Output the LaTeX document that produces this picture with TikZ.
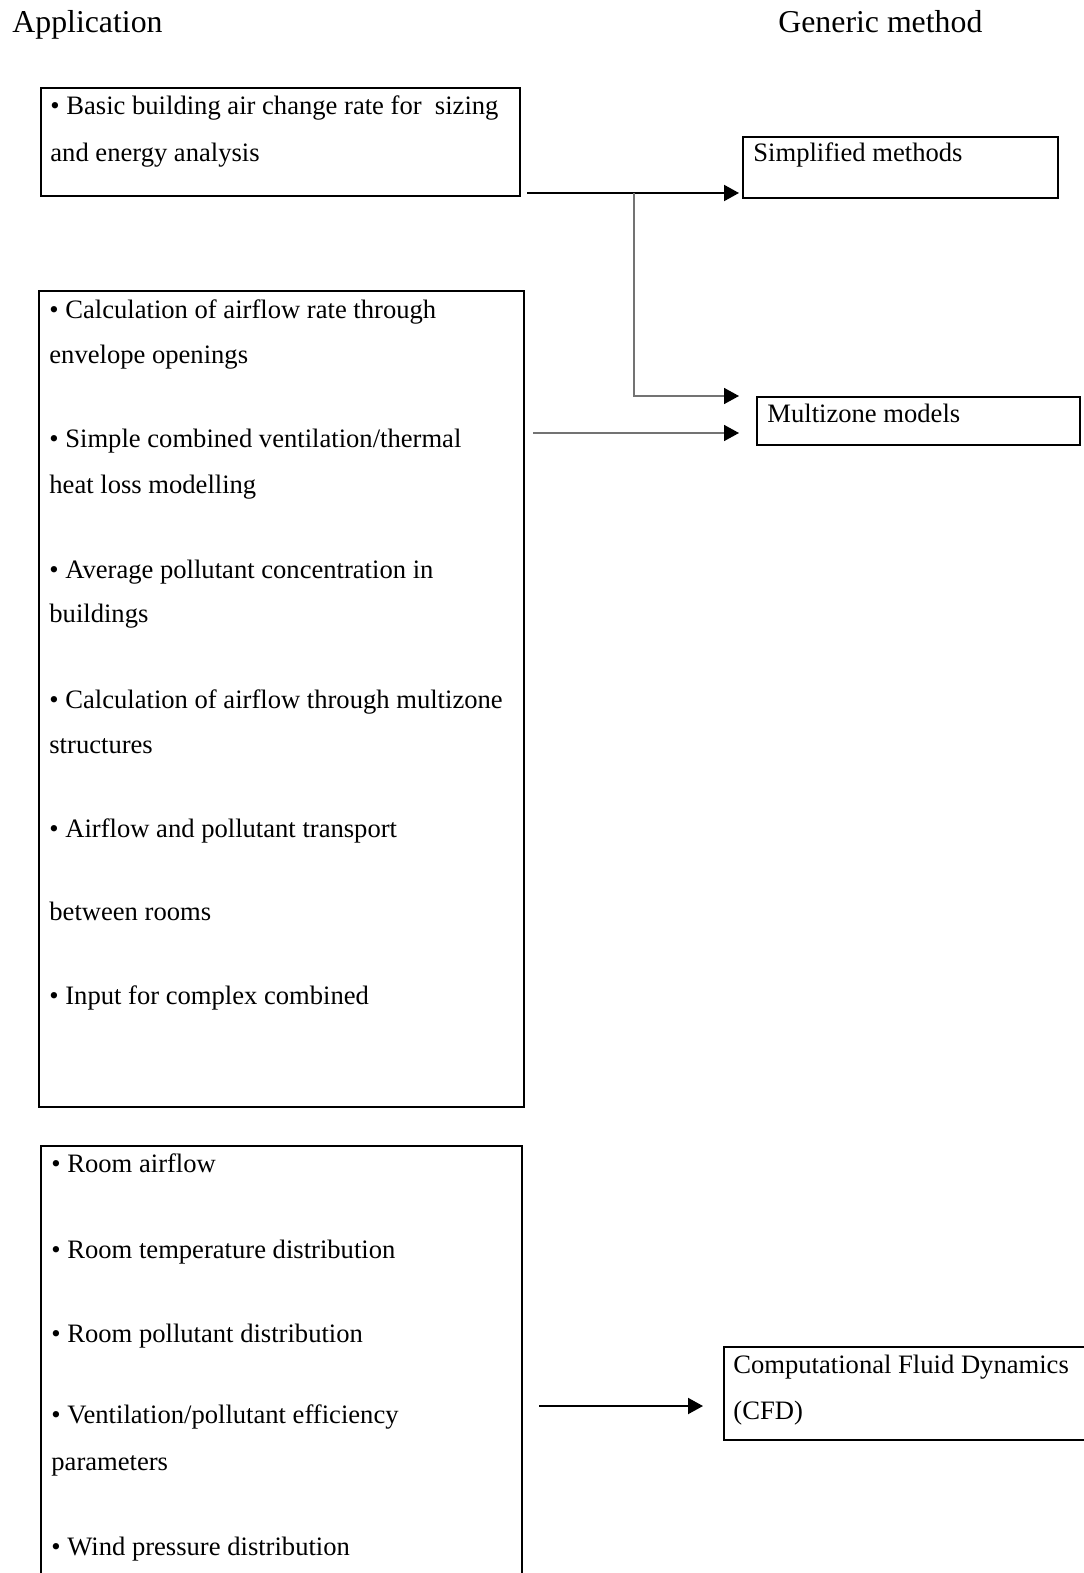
\documentclass[tikz,border=0pt]{standalone}
\usepackage{fontspec}
\setmainfont{Liberation Serif}
\usetikzlibrary{arrows.meta,fit}
\tikzset{
  box/.style={draw, line width=1pt, inner sep=0pt},
  txt/.style={anchor=base west, inner sep=0pt, font=\fontsize{13.3}{16}\selectfont},
  head/.style={anchor=base west, inner sep=0pt, font=\fontsize{15.9}{20}\selectfont},
  link/.style={->, line width=1pt},
  thinlink/.style={-{Triangle[length=7.5pt,width=8pt,color=black]}, line width=0.8pt, draw=black!55},
}
\begin{document}
\begin{tikzpicture}[x=0.5pt, y=-0.5pt, >={Triangle[length=7.5pt,width=8pt]}]
    \useasboundingbox (0,0) rectangle (1083,1573);
    % column titles
    \node [head] (app) at (12,33) {Application};
    \node [head] (gen) at (778,33) {Generic method};
    % application boxes
    \node [box, fit={(41,88) (520,196)}] (b1) {};
    \node [box, fit={(39,291) (524,1107)}] (b2) {};
    \node [box, fit={(41,1146) (522,1620)}] (b3) {};
    % method boxes
    \node [box, fit={(743,137) (1058,198)}] (sm) {};
    \node [box, fit={(757,397) (1080,445)}] (mz) {};
    \node [box, fit={(724,1347) (1095,1440)}] (cfd) {};
    % texts
    \node [txt] (b1a) at (50,115) {• Basic building air change rate for~ sizing};
    \node [txt] (b1b) at (50,162) {and energy analysis};
    \node [txt] (b2a) at (49,318) {• Calculation of airflow rate through};
    \node [txt] (b2b) at (49,363) {envelope openings};
    \node [txt] (b2c) at (49,447) {• Simple combined ventilation/thermal};
    \node [txt] (b2d) at (49,493) {heat loss modelling};
    \node [txt] (b2e) at (49,578) {• Average pollutant concentration in};
    \node [txt] (b2f) at (49,622) {buildings};
    \node [txt] (b2g) at (49,708) {• Calculation of airflow through multizone};
    \node [txt] (b2h) at (49,753) {structures};
    \node [txt] (b2i) at (49,837) {• Airflow and pollutant transport};
    \node [txt] (b2j) at (49,920) {between rooms};
    \node [txt] (b2k) at (49,1004) {• Input for complex combined};
    \node [txt] (b3a) at (51,1172) {• Room airflow};
    \node [txt] (b3b) at (51,1258) {• Room temperature distribution};
    \node [txt] (b3c) at (51,1342) {• Room pollutant distribution};
    \node [txt] (b3d) at (51,1423) {• Ventilation/pollutant efficiency};
    \node [txt] (b3e) at (51,1470) {parameters};
    \node [txt] (b3f) at (51,1555) {• Wind pressure distribution};
    \node [txt] (sma) at (753,162) {Simplified methods};
    \node [txt] (mza) at (767,422) {Multizone models};
    \node [txt] (cfda) at (733,1373) {Computational Fluid Dynamics};
    \node [txt] (cfdb) at (733,1419) {(CFD)};
    % connectors
    \coordinate (j) at (634,193);
    \coordinate (m1) at ([xshift=-8.5pt]mz.north west);
    \coordinate (m2) at ([xshift=-8.5pt,yshift=6.5pt]mz.south west);
    \coordinate (c1) at ([xshift=-10pt,yshift=-6.25pt]cfd.west);
    \draw [link, shorten >=1.5pt] ([xshift=3pt]b1.east |- j) -- (sm.west |- j);
    \draw [thinlink] (j) |- (m1);
    \draw [thinlink] ([xshift=4pt]b2.east |- m2) -- (m2);
    \draw [link] ([xshift=8pt]b3.east |- c1) -- (c1);
\end{tikzpicture}
\end{document}
